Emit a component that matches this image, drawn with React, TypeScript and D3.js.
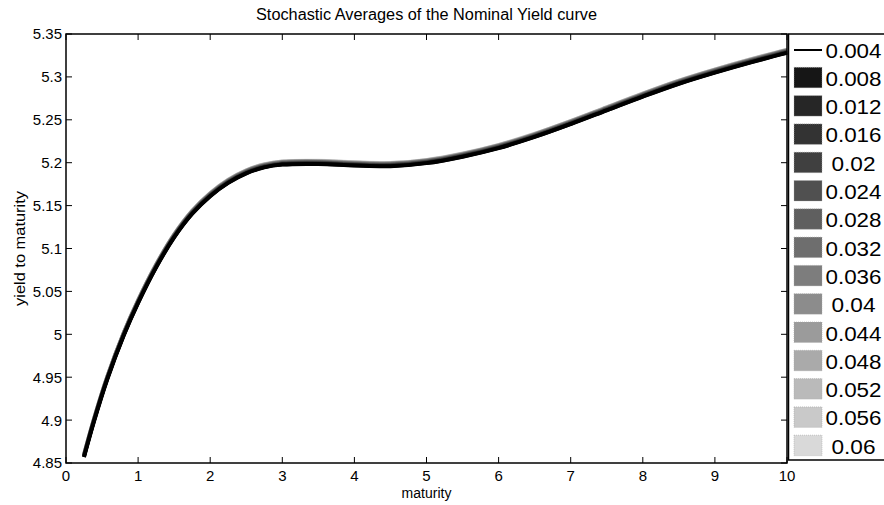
import React from "react";
import * as d3 from "d3";

const maturities = [0.25, 0.39, 0.57, 0.8, 1.0, 1.25, 1.5, 1.75, 2.0, 2.25, 2.5, 2.75, 3.0, 3.5, 4.0, 4.5, 5.0, 5.5, 6.0, 6.5, 7.0, 7.5, 8.0, 8.5, 9.0, 9.5, 10];
const baseYield = [4.857, 4.899, 4.947, 4.9985, 5.0365, 5.078, 5.113, 5.1405, 5.161, 5.1765, 5.1875, 5.1945, 5.1978, 5.1985, 5.1968, 5.196, 5.1995, 5.207, 5.217, 5.23, 5.245, 5.261, 5.277, 5.292, 5.305, 5.317, 5.328];
const spreads = ["0.004", "0.008", "0.012", "0.016", "0.02", "0.024", "0.028", "0.032", "0.036", "0.04", "0.044", "0.048", "0.052", "0.056", "0.06"];
// upward shift of each spread's curve relative to the 0.004 curve (read from the gray halo)
const spreadShift = [0, 0, 0.0004, 0.0008, 0.0012, 0.0016, 0.002, 0.0024, 0.0027, 0.003, 0.0032, 0.0034, 0.0036, 0.0038, 0.004];
const shades = ["#000000", "#161616", "#262626", "#333333", "#404040", "#505050", "#5f5f5f", "#6e6e6e", "#7d7d7d", "#8c8c8c", "#9b9b9b", "#aaaaaa", "#bababa", "#c9c9c9", "#d9d9d9"];
const xTicks = [0, 1, 2, 3, 4, 5, 6, 7, 8, 9, 10];
const yTicks = [4.85, 4.9, 4.95, 5.0, 5.05, 5.1, 5.15, 5.2, 5.25, 5.3, 5.35];

const W = 884, H = 505;
const L = 66, R = 787, T = 34, B = 463;
const FONT = "'Liberation Sans', Arial, Helvetica, sans-serif";

export default function App() {
  const x = d3.scaleLinear().domain([0, 10]).range([L, R]);
  const y = d3.scaleLinear().domain([4.85, 5.35]).range([B, T]);
  const line = d3
    .line<[number, number]>()
    .x((d) => x(d[0]))
    .y((d) => y(d[1]))
    .curve(d3.curveCatmullRom.alpha(0.5));

  const order = d3.range(spreads.length).reverse();
  const legendTop = 50;
  const legendStep = 28.3;
  const textCenter = 853.5;
  const fmtY = (v: number) => {
    const s = d3.format(".2f")(v);
    return s.replace(/0$/, "").replace(/\.0$/, "").replace(/\.$/, "");
  };

  return (
    <svg width={W} height={H} style={{ position: "absolute", left: 0, top: 0, background: "#fff" }} fontFamily={FONT}>
      <rect x={0} y={0} width={W} height={H} fill="#fff" />
      <text x={(L + R) / 2} y={20} fontSize={16} textAnchor="middle" textLength={341} lengthAdjust="spacingAndGlyphs">
        Stochastic Averages of the Nominal Yield curve
      </text>

      {/* curves */}
      <g fill="none" strokeLinejoin="round" strokeLinecap="butt">
        {order.map((k) => (
          <path
            key={k}
            d={line(maturities.map((m, i) => [m, baseYield[i] + spreadShift[k]]) as [number, number][]) || ""}
            stroke={shades[k]}
            strokeWidth={k === 0 ? 4 : 3.5}
          />
        ))}
      </g>

      {/* axes box */}
      <rect x={L} y={T} width={R - L} height={B - T} fill="none" stroke="#000" strokeWidth={1.5} />
      {xTicks.map((t) => (
        <g key={"x" + t}>
          <line x1={x(t)} x2={x(t)} y1={B} y2={B - 6} stroke="#000" strokeWidth={1} />
          <line x1={x(t)} x2={x(t)} y1={T} y2={T + 6} stroke="#000" strokeWidth={1} />
          <text x={x(t)} y={481} fontSize={15} textAnchor="middle">{t}</text>
        </g>
      ))}
      {yTicks.map((t) => (
        <g key={"y" + t}>
          <line x1={L} x2={L + 6} y1={y(t)} y2={y(t)} stroke="#000" strokeWidth={1} />
          <line x1={R} x2={R - 6} y1={y(t)} y2={y(t)} stroke="#000" strokeWidth={1} />
          <text x={62} y={y(t)} dy="0.36em" fontSize={15} textAnchor="end">{fmtY(t)}</text>
        </g>
      ))}
      <text x={(L + R) / 2} y={498} fontSize={14} textAnchor="middle">maturity</text>
      <text transform={`translate(24.5,${(T + B) / 2}) rotate(-90)`} fontSize={15} textAnchor="middle" textLength={115} lengthAdjust="spacingAndGlyphs">
        yield to maturity
      </text>

      {/* legend */}
      <rect x={788.5} y={34} width={120} height={426} fill="#fff" stroke="#000" strokeWidth={1.5} />
      {spreads.map((s, i) => {
        const cy = legendTop + i * legendStep;
        const w = s.length === 5 ? 56 : 44;
        return (
          <g key={s}>
            {i === 0 ? (
              <line x1={794} x2={822} y1={cy} y2={cy} stroke={shades[0]} strokeWidth={2} />
            ) : (
              <rect x={794} y={cy - 11} width={28} height={20.5} fill={shades[i]} stroke="#aaa" strokeWidth={0.6} strokeDasharray="1,1" />
            )}
            <text x={textCenter - w / 2} y={cy + 7.5} fontSize={19.5} textLength={w} lengthAdjust="spacingAndGlyphs">
              {s}
            </text>
          </g>
        );
      })}
    </svg>
  );
}
